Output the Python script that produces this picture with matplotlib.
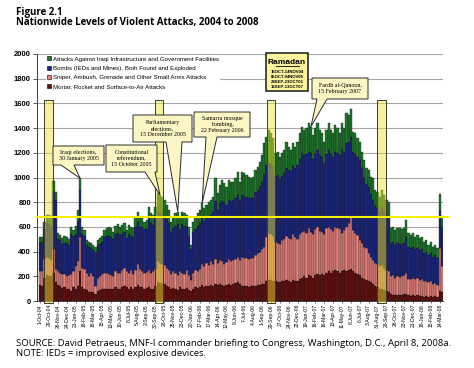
import matplotlib
matplotlib.use("Agg")
import matplotlib.pyplot as plt
from matplotlib.patches import Rectangle, Polygon
from matplotlib.lines import Line2D

# weekly attack counts
mortar = [130, 125, 190, 210, 205, 200, 230, 150, 130, 120,
          105, 110, 95, 100, 85, 110, 100, 120, 240, 110,
          100, 90, 70, 75, 70, 60, 80, 90, 100, 95,
          100, 95, 100, 100, 110, 100, 95, 110, 120, 110,
          100, 115, 100, 110, 130, 110, 110, 100, 105, 110,
          100, 100, 120, 150, 145, 140, 135, 120, 110, 100,
          105, 100, 90, 110, 100, 95, 105, 90, 80, 100,
          110, 105, 110, 130, 115, 125, 120, 130, 125, 140,
          130, 135, 130, 125, 130, 140, 130, 140, 145,
          150, 135, 125, 120, 120, 115, 120, 125, 125, 130,
          130, 135, 140, 160, 170, 170, 165, 160, 155, 150,
          160, 165, 170, 160, 155, 170, 165, 160, 175, 190,
          200, 190, 210, 200, 190, 210, 220, 210, 220, 210,
          230, 240, 230, 240, 250, 240, 230, 240, 250, 245,
          250, 260, 240, 230, 220, 210, 190, 180, 170, 160,
          150, 140, 120, 110, 100, 95, 90, 85, 70, 55,
          50, 45, 50, 45, 50, 55, 60, 45, 40, 45,
          40, 45, 40, 40, 35, 40, 35, 40, 35, 40,
          35, 80, 70]
sniper = [115, 115, 150, 150, 145, 130, 190, 110, 110, 110,
          110, 110, 105, 110, 135, 130, 180, 200, 280, 160,
          160, 140, 130, 155, 130, 60, 110, 110, 120, 130,
          130, 125, 110, 105, 130, 125, 135, 140, 145, 130,
          130, 135, 120, 140, 170, 150, 130, 125, 130, 140,
          130, 140, 140, 170, 165, 160, 155, 150, 140, 120,
          135, 130, 120, 130, 125, 120, 145, 120, 90, 130,
          140, 135, 150, 170, 165, 185, 170, 190, 175, 200,
          180, 195, 190, 175, 185, 200, 190, 190, 195,
          210, 195, 230, 230, 225, 225, 225, 225, 245, 255,
          270, 285, 300, 360, 380, 375, 365, 320, 315, 310,
          330, 335, 360, 350, 345, 370, 355, 340, 365, 370,
          370, 360, 380, 360, 350, 370, 380, 360, 340, 330,
          360, 360, 350, 330, 350, 350, 350, 308, 325, 357,
          379, 423, 335, 318, 315, 284, 277, 260, 257, 226,
          209, 192, 185, 190, 180, 195, 180, 165, 170, 145,
          160, 145, 155, 150, 150, 155, 165, 135, 135, 145,
          140, 140, 130, 135, 125, 125, 115, 120, 105, 105,
          95, 350, 210]
bombs = [225, 235, 240, 270, 270, 280, 460, 560, 260, 260,
         250, 250, 270, 245, 320, 285, 265, 330, 380, 275,
         265, 225, 240, 200, 215, 280, 260, 260, 255, 290,
         295, 310, 310, 295, 300, 325, 305, 295, 295, 270,
         315, 280, 300, 350, 340, 340, 360, 355, 350, 420,
         400, 375, 420, 400, 400, 400, 400, 390, 380, 340,
         350, 380, 410, 345, 395, 390, 350, 320, 250, 330,
         330, 370, 370, 380, 370, 360, 400, 380, 420, 470,
         430, 460, 490, 500, 465, 480, 490, 490, 490,
         500, 490, 505, 500, 495, 490, 485, 485, 510, 515,
         530, 540, 590, 580, 570, 565, 560, 530, 550, 530,
         520, 540, 550, 550, 550, 550, 560, 600, 610, 640,
         610, 640, 620, 640, 610, 610, 620, 610, 610, 580,
         600, 620, 610, 600, 610, 610, 600, 682, 635, 678,
         661, 647, 635, 642, 635, 646, 613, 560, 523, 534,
         511, 488, 465, 450, 440, 470, 460, 450, 440, 270,
         265, 265, 265, 270, 260, 260, 295, 260, 255, 250,
         240, 245, 240, 245, 230, 235, 220, 230, 220, 225,
         220, 300, 320]
infra = [45, 40, 60, 70, 75, 75, 90, 66, 48, 45,
         43, 57, 46, 45, 60, 50, 60, 87, 94, 52,
         50, 39, 40, 37, 39, 40, 44, 48, 52, 60,
         64, 72, 69, 62, 68, 74, 67, 71, 75, 65,
         71, 72, 69, 70, 84, 70, 70, 63, 71, 94,
         80, 82, 84, 152, 149, 145, 128, 118, 107, 83,
         93, 100, 104, 98, 104, 105, 97, 70, 30, 83,
         90, 100, 107, 111, 101, 108, 115, 118, 125, 184,
         132, 150, 170, 153, 146, 160, 157, 147, 164,
         188, 147, 188, 184, 180, 177, 170, 172, 181, 188,
         198, 222, 247, 231, 265, 248, 227, 186, 189, 179,
         186, 183, 210, 190, 173, 187, 170, 190, 208, 212,
         205, 208, 229, 212, 194, 208, 219, 205, 188, 170,
         195, 219, 195, 188, 215, 198, 178, 209, 188, 240,
         217, 223, 162, 168, 148, 150, 130, 142, 125, 141,
         137, 174, 129, 136, 125, 139, 129, 118, 120, 119,
         127, 120, 119, 124, 120, 119, 136, 108, 105, 108,
         101, 105, 98, 101, 90, 94, 84, 90, 80, 84,
         77, 137, 90]

tick_labels = ["1-Oct-04", "29-Oct-04", "26-Nov-04", "24-Dec-04", "21-Jan-05",
               "18-Feb-05", "18-Mar-05", "15-Apr-05", "13-May-05", "10-Jun-05",
               "8-Jul-05", "5-Aug-05", "2-Sep-05", "30-Sep-05", "28-Oct-05",
               "25-Nov-05", "23-Dec-05", "20-Jan-06", "17-Feb-06", "17-Mar-06",
               "14-Apr-06", "12-May-06", "9-Jun-06", "7-Jul-06", "4-Aug-06",
               "1-Sep-06", "29-Sep-06", "27-Oct-06", "24-Nov-06", "22-Dec-06",
               "19-Jan-07", "16-Feb-07", "16-Mar-07", "13-Apr-07", "11-May-07",
               "8-Jun-07", "6-Jul-07", "3-Aug-07", "31-Aug-07", "28-Sep-07",
               "26-Oct-07", "23-Nov-07", "21-Dec-07", "18-Jan-08", "15-Feb-08",
               "14-Mar-08"]

legend_labels = ["Attacks Against Iraqi Infrastructure and Government Facilities",
                 "Bombs (IEDs and Mines), Both Found and Exploded",
                 "Sniper, Ambush, Grenade and Other Small Arms Attacks",
                 "Mortar, Rocket and Surface-to-Air Attacks"]

# Ramadan periods, in week units of the x axis
ramadan_spans = [(1.8, 5.8), (51.8, 55.4), (102.4, 105.8), (151.8, 155.8)]
ramadan_text = ["15OCT-14NOV04", "05OCT-04NOV05", "24SEP-23OCT06", "13SEP-13OCT07"]
baseline_level = 680

C_GREEN = "#1f7a2b"
C_BLUE = "#1c2680"
C_PINK = "#ea8580"
C_RED = "#641010"
C_CALLOUT = "#fbf6c4"

W, H = 474, 368


def fx(x):
    return x / W


def fy(y):
    return 1 - y / H


fig = plt.figure(figsize=(W / 100, H / 100), dpi=100)
ax = fig.add_axes([fx(37), fy(301), (443 - 37) / W, (301 - 54) / H])

n = len(mortar)
idx = list(range(n))
total = [mortar[i] + sniper[i] + bombs[i] + infra[i] for i in idx]
b1 = mortar
b2 = [mortar[i] + sniper[i] for i in idx]
b3 = [b2[i] + bombs[i] for i in idx]

kw = dict(width=1.0, edgecolor="#151515", linewidth=0.25, zorder=2)
ax.bar(idx, mortar, color=C_RED, **kw)
ax.bar(idx, sniper, bottom=b1, color=C_PINK, **kw)
ax.bar(idx, bombs, bottom=b2, color=C_BLUE, **kw)
ax.bar(idx, infra, bottom=b3, color=C_GREEN, **kw)

ax.set_xlim(-1.4, 181.5)
ax.set_ylim(0, 2000)

ax.set_yticks(range(0, 2001, 200))
ax.set_yticklabels([str(v) for v in range(0, 2001, 200)],
                   fontsize=5.5, fontweight="bold", family="Liberation Sans")
ax.yaxis.grid(True, color="#a6a6a6", linewidth=0.8, zorder=0)
ax.set_axisbelow(True)
ax.tick_params(axis="y", length=2.8, width=0.6, color="#404040", pad=1.5)

ax.set_xticks(range(0, 4 * len(tick_labels), 4))
ax.set_xticklabels(tick_labels, rotation=90, fontsize=3.6, family="Liberation Sans")
ax.tick_params(axis="x", length=1.2, width=0.4, pad=1)

for s in ["top", "right"]:
    ax.spines[s].set_visible(False)
ax.spines["left"].set_color("#404040")
ax.spines["left"].set_linewidth(0.7)
ax.spines["bottom"].set_color("#404040")
ax.spines["bottom"].set_linewidth(0.7)

# Ramadan highlight boxes
for a, b in ramadan_spans:
    ax.add_patch(Rectangle((a, -15), b - a, 1645, facecolor="#ede337", alpha=0.48,
                           edgecolor="none", zorder=3, clip_on=False))
    ax.add_patch(Rectangle((a, -15), b - a, 1645, facecolor="none",
                           edgecolor="#3a3a30", linewidth=0.7, zorder=3.1, clip_on=False))

ax.axhline(baseline_level, xmin=0, xmax=1.012, color="#f5f000", linewidth=1.5,
           zorder=4, clip_on=False)

handles = [Line2D([], [], marker="s", linestyle="none", markersize=2.6,
                  markerfacecolor=c, markeredgecolor="black", markeredgewidth=0.4)
           for c in [C_GREEN, C_BLUE, C_PINK, C_RED]]
leg = ax.legend(handles, legend_labels, loc="upper left",
                bbox_to_anchor=(fx(46), fy(55)), bbox_transform=fig.transFigure,
                prop={"family": "Liberation Sans", "size": 4.45},
                frameon=True, fancybox=False, framealpha=1, edgecolor="none",
                borderpad=0.2, borderaxespad=0, handlelength=0.6,
                handletextpad=0.3, labelspacing=0.65)
leg.set_zorder(5)


def to_fig(i):
    d = ax.transData.transform((i, total[i]))
    return fig.transFigure.inverted().transform(d)


def callout(box, base, tip_i, text, size=4.3, spacing=1.25):
    l, t, r, b = box
    tip = to_fig(tip_i)
    if base[0] < l + 1:
        pts = [(fx(l), fy(t)), (fx(r), fy(t)), (fx(r), fy(b)), (fx(base[1]), fy(b)),
               tuple(tip), (fx(base[0]), fy(b))]
    else:
        pts = [(fx(l), fy(t)), (fx(r), fy(t)), (fx(r), fy(b)), (fx(base[1]), fy(b)),
               tuple(tip), (fx(base[0]), fy(b)), (fx(l), fy(b))]
    fig.add_artist(Polygon(pts, closed=True, transform=fig.transFigure,
                           facecolor=C_CALLOUT, edgecolor="#2b2b2b",
                           linewidth=0.7, zorder=6))
    fig.text(fx((l + r) / 2), fy((t + b) / 2), text, ha="center", va="center",
             fontsize=size, family="Liberation Serif", linespacing=spacing, zorder=7)


callout((53, 146, 104, 165), (61, 74), 18, "Iraqi elections,\n30 January 2005")
callout((106, 145, 157, 172), (145, 155), 54,
        "Constitutional\nreferendum,\n15 October 2005")
callout((133, 115, 192, 142), (166, 182), 62,
        "Parliamentary\nelections,\n15 December 2005")
callout((194, 112, 250, 137), (206, 217), 73,
        "Samarra mosque\nbombing,\n22 February 2006")
callout((312, 78, 368, 99), (317, 327), 122,
        "Fardh al-Qanoon,\n15 February 2007")

# Ramadan key box
fig.add_artist(Rectangle((fx(266), fy(91)), fx(308) - fx(266), fy(53) - fy(91),
                         transform=fig.transFigure, facecolor="#fbf49c",
                         edgecolor="#1a1a1a", linewidth=1.1, zorder=6))
fig.text(fx(287), fy(62.3), "Ramadan", ha="center", va="center", fontsize=6,
         fontweight="bold", family="Liberation Sans", zorder=7)
fig.add_artist(Line2D([fx(275.5), fx(298.5)], [fy(66.3), fy(66.3)],
                      transform=fig.transFigure, color="black", linewidth=0.6, zorder=7))
for k, s in enumerate(ramadan_text):
    fig.text(fx(287), fy(72.3 + 4.8 * k), s, ha="center", va="center", fontsize=3.1,
             fontweight="bold", family="Liberation Sans", zorder=7)

fig.text(fx(16), fy(15), "Figure 2.1", fontsize=7, fontweight="bold",
         family="Open Sans", va="baseline")
fig.text(fx(16), fy(24.7), "Nationwide Levels of Violent Attacks, 2004 to 2008",
         fontsize=7, fontweight="bold", family="Open Sans", va="baseline")
fig.text(fx(16), fy(345.5),
         "SOURCE: David Petraeus, MNF-I commander briefing to Congress, "
         "Washington, D.C., April 8, 2008a.",
         fontsize=6.8, family="Open Sans", va="baseline")
fig.text(fx(16), fy(356), "NOTE: IEDs = improvised explosive devices.",
         fontsize=6.8, family="Open Sans", va="baseline")

fig.savefig("out.png", dpi=100)
